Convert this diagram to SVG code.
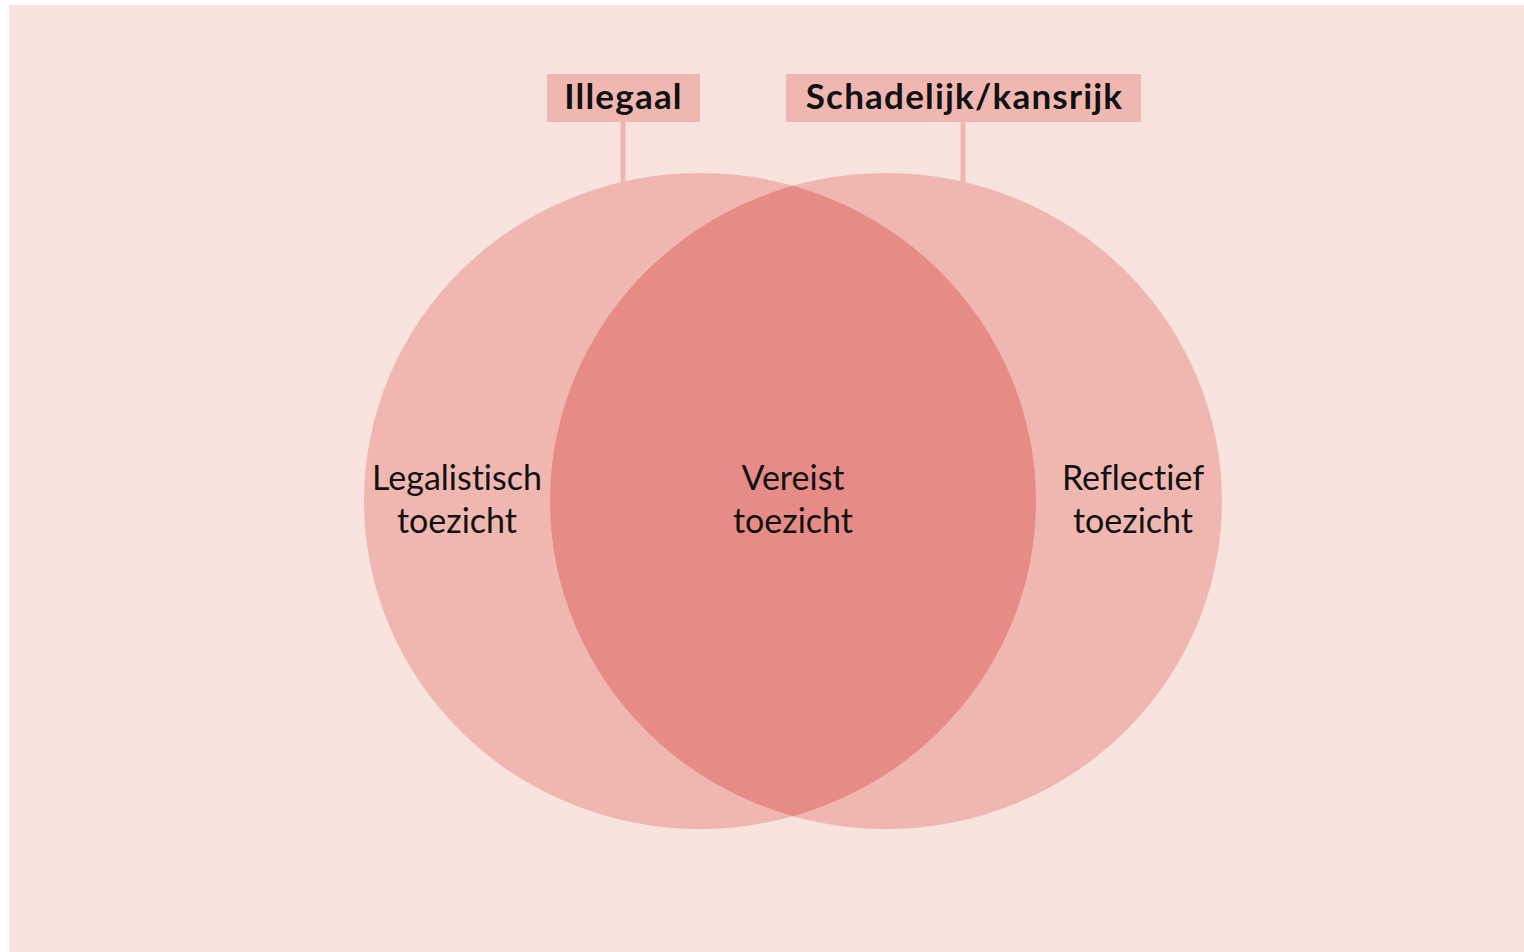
<svg xmlns="http://www.w3.org/2000/svg" width="1524" height="952" viewBox="0 0 1524 952">
  <style>
    .circle { fill: #F0B7B1; }
    .overlap { fill: #E68B86; }
    .label { fill: #F0B7B1; }
    .conn { stroke: #F0B7B1; stroke-width: 5; fill: none; }
    .t { font-family: "Lato", "Liberation Sans", sans-serif; font-size: 34px; fill: #111111; text-anchor: middle; font-variant-ligatures: none; font-feature-settings: "liga" 0, "clig" 0; }
    .b { font-family: "Lato", "Liberation Sans", sans-serif; font-size: 35px; font-weight: bold; letter-spacing: 1.2px; fill: #111111; text-anchor: middle; font-variant-ligatures: none; }
  </style>
  <defs>
    <clipPath id="clipRight">
      <ellipse cx="886" cy="501" rx="336" ry="328"/>
    </clipPath>
  </defs>
  <rect x="0" y="0" width="1524" height="952" fill="#FFFFFF"/>
  <rect x="9" y="5" width="1515" height="947" fill="#F8E3DF"/>
  <g id="connectors">
    <line class="conn" x1="623" y1="120" x2="623" y2="190"/>
    <line class="conn" x1="963" y1="120" x2="963" y2="190"/>
  </g>
  <g id="legalistisch">
    <ellipse class="circle" cx="700" cy="501" rx="336" ry="328"/>
    <text class="t" x="457" y="490">Legalistisch</text>
    <text class="t" x="457" y="533">toezicht</text>
  </g>
  <g id="reflectief">
    <ellipse class="circle" cx="886" cy="501" rx="336" ry="328"/>
    <text class="t" x="1133" y="490">Reflectief</text>
    <text class="t" x="1133" y="533">toezicht</text>
  </g>
  <g id="vereist">
    <ellipse class="overlap" cx="700" cy="501" rx="336" ry="328" clip-path="url(#clipRight)"/>
    <text class="t" x="793" y="490">Vereist</text>
    <text class="t" x="793" y="533">toezicht</text>
  </g>
  <g id="illegaal">
    <rect class="label" x="547" y="74" width="153" height="48"/>
    <text class="b" x="623.5" y="109">Illegaal</text>
  </g>
  <g id="schadelijk">
    <rect class="label" x="786" y="74" width="355" height="48"/>
    <text class="b" x="964.5" y="109">Schadelijk/kansrijk</text>
  </g>
</svg>
